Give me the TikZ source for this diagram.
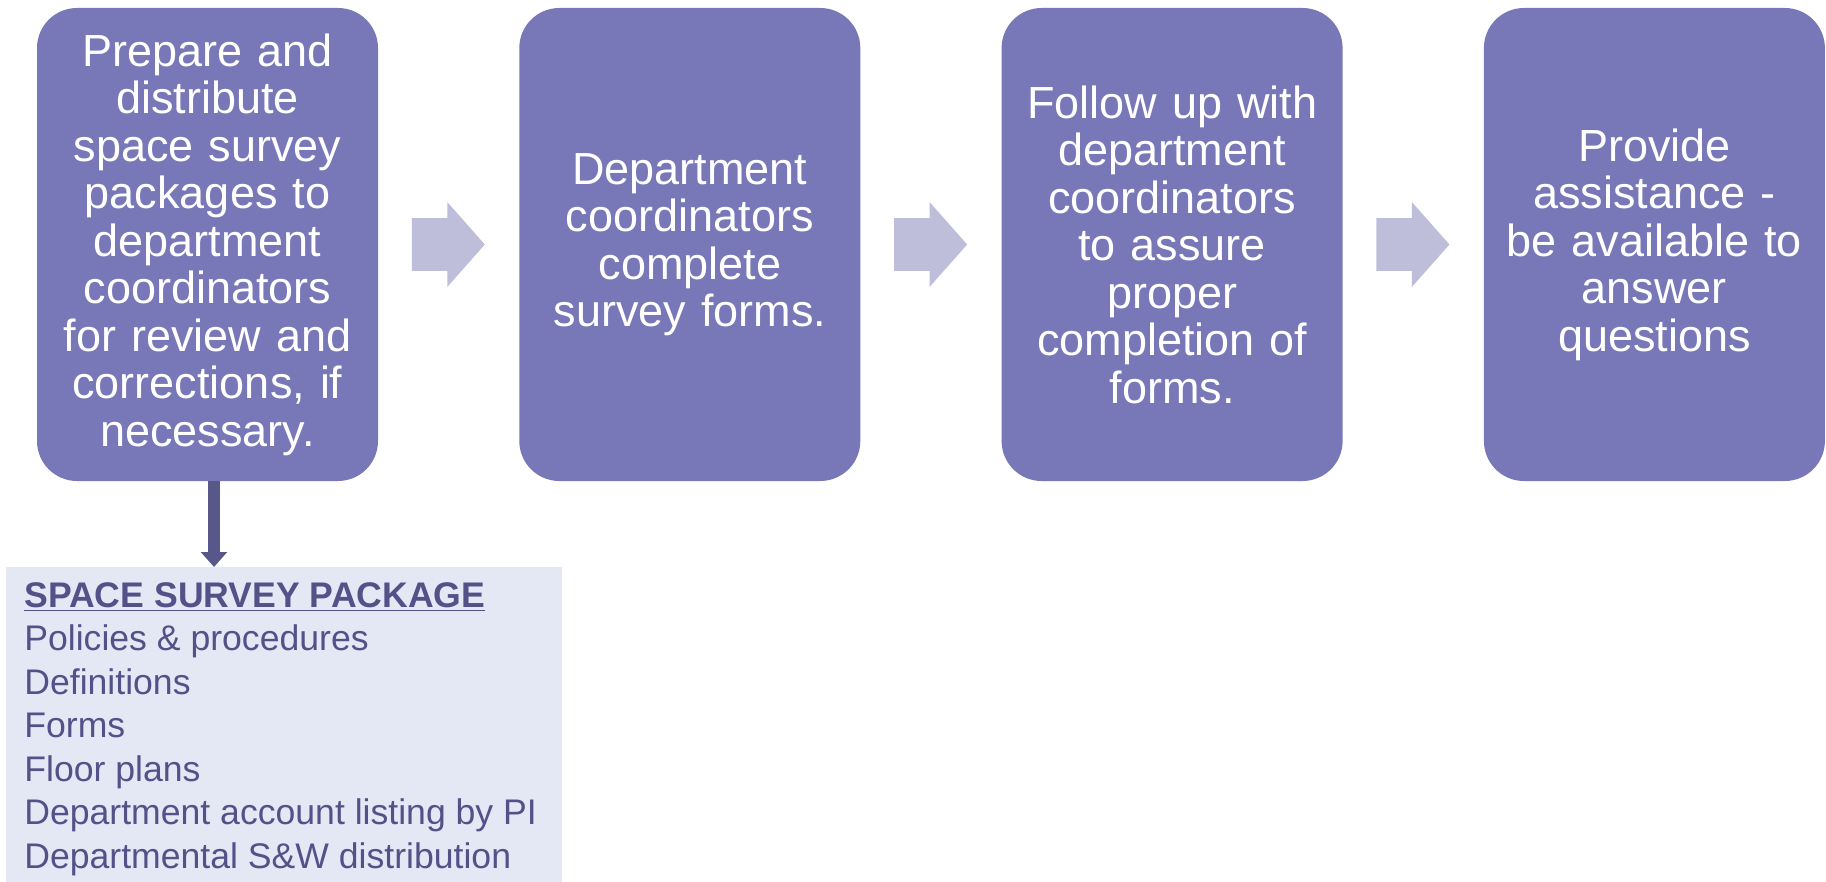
\documentclass[tikz,border=0pt]{standalone}
\usepackage{fontspec}
\setmainfont{Liberation Sans}
\usepackage{tikz}
\usetikzlibrary{positioning,calc,shapes.arrows,arrows.meta}

\definecolor{stepfill}{RGB}{120,120,184}
\definecolor{chevronfill}{RGB}{190,190,218}
\definecolor{linkcol}{RGB}{87,87,137}
\definecolor{pkgfill}{RGB}{228,232,245}
\definecolor{pkgtext}{RGB}{82,82,137}

\tikzset{
  stepbox/.style={rectangle, rounded corners=20pt, fill=stepfill, text=white,
    minimum width=170.5pt, minimum height=236.5pt, inner sep=0pt,
    text width=160pt, align=center,
    font=\fontsize{22.5pt}{23.75pt}\selectfont},
  chevron/.style={single arrow, fill=chevronfill, inner xsep=0pt, inner ysep=13pt,
    minimum height=36.5pt, minimum width=42pt,
    single arrow head extend=8pt, single arrow tip angle=97},
  pkgbox/.style={rectangle, fill=pkgfill, inner sep=0pt,
    minimum width=278pt, minimum height=157.5pt},
  pkglist/.style={text=pkgtext, inner sep=0pt, align=left,
    font=\fontsize{17.8pt}{21.75pt}\selectfont},
  downlink/.style={draw=linkcol, line width=5.8pt,
    -{Triangle[width=12.8pt,length=7.5pt]}}
}

\begin{document}
\begin{tikzpicture}[x=0.5pt,y=-0.5pt]
                \useasboundingbox (0,0) rectangle (1826,882);
                % The four steps
                \node[stepbox] (prep) at (207.5,244.5) {Prepare and\\ distribute\\ space survey\\ packages to\\ department\\ coordinators\\ for review and\\ corrections, if\\ necessary.};
                \node[stepbox, right=70.25pt of prep] (complete) {Department\\ coordinators\\ complete\\ survey forms.};
                \node[stepbox, right=70.25pt of complete] (follow) {Follow up with\\ department\\ coordinators\\ to assure\\ proper\\ completion of\\ forms.};
                \node[stepbox, right=70.25pt of follow] (assist) {Provide\\ assistance -\\ be available to\\ answer\\ questions};
                % Block arrows between the steps
                \node[chevron] (c1) at ($(prep.east)!0.5!(complete.west)+(-12,0)$) {};
                \node[chevron] (c2) at ($(complete.east)!0.5!(follow.west)+(-12,0)$) {};
                \node[chevron] (c3) at ($(follow.east)!0.5!(assist.west)+(-12,0)$) {};
                % The package contents
                \node[pkgbox, anchor=north west] (pkg) at (6,567) {};
                \node[pkglist, anchor=north west] (pkglines) at ([xshift=9pt,yshift=-7.5pt]pkg.north west) {\textbf{\underline{SPACE SURVEY PACKAGE}}\\ Policies \& procedures\\ Definitions\\ Forms\\ Floor plans\\ Department account listing by PI\\ Departmental S\&W distribution};
                \coordinate (drop) at ([xshift=3.25pt]prep.south);
                \draw[downlink] (drop) -- (drop |- pkg.north);
            \end{tikzpicture}
\end{document}
